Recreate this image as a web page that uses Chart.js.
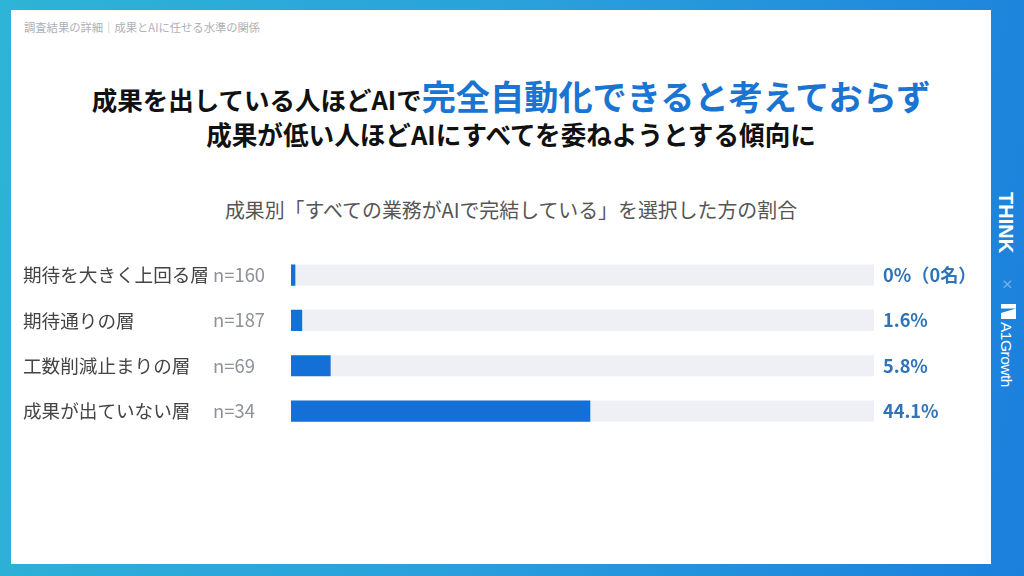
<!DOCTYPE html>
<html lang="ja">
<head>
<meta charset="utf-8">
<script src="https://cdn.jsdelivr.net/npm/chart.js@4"></script>
<style>
  html, body { margin: 0; width: 1024px; height: 576px; overflow: hidden; }
  body { position: relative; background: linear-gradient(100deg, #2db4d6 0%, #2a9fdc 50%, #1b7fdc 100%); font-family: "Noto Sans CJK JP", sans-serif; }
  .card { position: absolute; left: 11px; top: 10px; width: 980px; height: 554px; background: #fff; }
  canvas { position: absolute; left: 0; top: 0; }
  .txt { position: absolute; white-space: nowrap; line-height: 1; }
  .crumb { left: 24px; top: 22px; font-size: 11.3px; color: #aeb1b5; }
  .t1 { left: 0; width: 1022px; text-align: center; top: 78px; font-size: 25.5px; font-weight: 700; color: #111; height: 38px; }
  .t1 b { font-size: 34.2px; color: #1a74d2; font-weight: 700; }
  .t2 { left: 0; width: 1022px; text-align: center; top: 121px; font-size: 25.6px; font-weight: 700; color: #111; }
  .sub { left: 0; width: 1022px; text-align: center; top: 200px; font-size: 19.9px; color: #555; }
  .logo { color: #fff; transform-origin: left top; transform: rotate(90deg); }
  .think { left: 1017px; top: 192px; font: 700 20px "Liberation Sans", sans-serif; }
  .cross { left: 1017px; top: 279px; font: 300 18px "Liberation Sans", sans-serif; color: #6fb0ea; }
  .growth { left: 1015px; top: 322px; font: 400 15.5px "Liberation Sans", sans-serif; letter-spacing: -0.5px; }
  .mark { position: absolute; left: 1001px; top: 304px; width: 15px; height: 15px; background: #fff; clip-path: polygon(0 0, 100% 0, 100% 100%, 0 100%, 0 60%, 100% 30%, 0 30%); }
</style>
</head>
<body>
<div class="card"></div>
<div class="txt crumb">調査結果の詳細｜成果とAIに任せる水準の関係</div>
<div class="txt t1">成果を出している人ほどAIで<b>完全自動化できると考えておらず</b></div>
<div class="txt t2">成果が低い人ほどAIにすべてを委ねようとする傾向に</div>
<div class="txt sub">成果別「すべての業務がAIで完結している」を選択した方の割合</div>
<div class="txt logo think">THINK</div>
<div class="txt logo cross">×</div>
<div class="mark"></div>
<div class="txt logo growth">A1Growth</div>
<canvas id="chartCanvas" width="1024" height="576"></canvas>
<script>
const categories = ["期待を大きく上回る層", "期待通りの層", "工数削減止まりの層", "成果が出ていない層"];
const sampleLabels = ["n=160", "n=187", "n=69", "n=34"];
const shareValues = [0, 1.6, 5.8, 44.1];
const valueLabels = ["0%（0名）", "1.6%", "5.8%", "44.1%"];
const trackValues = [86, 86, 86, 86];

const rowLabels = {
  id: "rowLabels",
  afterDraw(chart) {
    const { ctx, scales } = chart;
    ctx.save();
    ctx.textBaseline = "middle";
    categories.forEach((name, i) => {
      const y = scales.y.getPixelForValue(i);
      ctx.font = '18.6px "Noto Sans CJK JP"';
      ctx.fillStyle = "#444";
      ctx.fillText(name, 23, y);
      ctx.font = '18.4px "Noto Sans CJK JP"';
      ctx.fillStyle = "#8d9198";
      ctx.fillText(sampleLabels[i], 213, y);
      ctx.font = 'bold 18.2px "Noto Sans CJK JP"';
      ctx.fillStyle = "#2f74b8";
      ctx.fillText(valueLabels[i], 883, y);
    });
    ctx.restore();
  }
};

new Chart(document.getElementById("chartCanvas").getContext("2d"), {
  type: "bar",
  data: {
    labels: categories,
    datasets: [
      { data: shareValues, backgroundColor: "#1470d6", barThickness: 20.5, minBarLength: 4, order: 1 },
      { data: trackValues, backgroundColor: "#eef0f6", barThickness: 20.5, order: 2 }
    ]
  },
  options: {
    indexAxis: "y",
    responsive: false,
    animation: false,
    layout: { padding: { left: 291, right: 150, top: 252.5, bottom: 142.3 } },
    plugins: { legend: { display: false }, tooltip: { enabled: false } },
    scales: {
      x: { display: false, min: 0, max: 86, stacked: false },
      y: { display: false, stacked: true }
    }
  },
  plugins: [rowLabels]
});
</script>
</body>
</html>
